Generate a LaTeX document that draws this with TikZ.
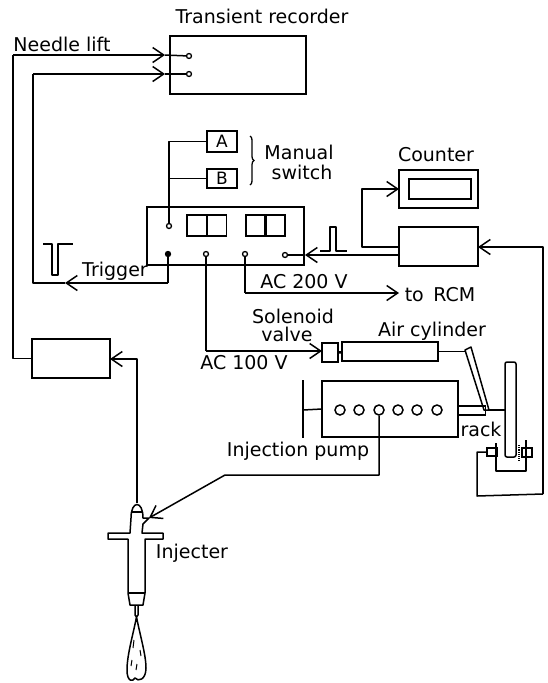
\documentclass[tikz,border=0pt]{standalone}
\usepackage{fontspec}
\setmainfont{DejaVu Sans}
\usepackage{tikz}
\usetikzlibrary{positioning, arrows.meta, decorations.pathreplacing}
\tikzset{
  wire/.style={line width=1.5pt, line join=round},
  unit/.style={draw, line width=1.5pt, inner sep=0pt, outer sep=0pt},
  term/.style={draw, circle, line width=1.3pt, fill=white, inner sep=0pt, minimum size=5pt},
  termf/.style={term, fill=black},
  hole/.style={draw, circle, line width=1.5pt, inner sep=0pt, minimum size=10pt},
  lab/.style={inner sep=0pt, font=\fontsize{19}{21}\selectfont},
  feed/.style={wire, -{Straight Barb[length=11pt, width=15pt, line width=1.5pt]}},
}
\begin{document}
\begin{tikzpicture}[x=1pt, y=-1pt]
  \useasboundingbox (0,0) rectangle (548,683);
  % recorder and amplifier
  \node[unit, minimum width=136pt, minimum height=58pt] (rec) at (238,65) {};
  \node[term] (r1) at (189,56) {};
  \node[term] (r2) at (189,74) {};
  \node[unit, minimum width=78pt, minimum height=39pt] (amp) at (71,358.5) {};
  \node[lab] (lrec) at (262,16) {Transient recorder};
  \node[lab] (lnl) at (62,44) {Needle lift};
  % control unit
  \node[unit, minimum width=157pt, minimum height=58pt] (ctl) at (225.5,236) {};
  \node[unit, minimum width=20pt, minimum height=21pt] (d1) at (197,225.5) {};
  \node[unit, minimum width=20pt, minimum height=21pt] (d2) at (216.5,225.5) {};
  \node[unit, minimum width=20pt, minimum height=21pt] (d3) at (256,225.5) {};
  \node[unit, minimum width=20pt, minimum height=21pt] (d4) at (275,225.5) {};
  \node[term] (sw) at (169,226) {};
  \node[termf] (tr) at (168,254) {};
  \node[term] (ac1) at (206,254) {};
  \node[term] (ac2) at (245,254) {};
  \node[term] (inp) at (285,255) {};
  % manual switch
  \node[unit, lab, font=\fontsize{17}{19}\selectfont, minimum width=30pt, minimum height=21pt] (ba) at (222,141.5) {A};
  \node[unit, lab, font=\fontsize{17}{19}\selectfont, minimum width=30pt, minimum height=19pt] (bb) at (222,178.5) {B};
  \coordinate (bt) at (169,141.5);
  \coordinate (bm) at (169,178.5);
  \draw[wire] (ba) -- (bt) -- (sw);
  \draw[wire] (bb) -- (bm);
  \coordinate (bra) at (250,136);
  \coordinate (brb) at (250,185);
  \draw[line width=1.3pt, decorate, decoration={brace, amplitude=4pt}] (bra) -- (brb);
  \node[lab] (lman) at (299,152) {Manual};
  \node[lab] (lsw) at (302,172) {switch};
  % counter side
  \node[unit, minimum width=79pt, minimum height=38pt] (cnt) at (438.5,189) {};
  \node[unit, minimum width=62pt, minimum height=20pt] (cw) at (440,189) {};
  \node[unit, minimum width=79pt, minimum height=39pt] (cir) at (438.5,246.5) {};
  \node[lab] (lcnt) at (436,155) {Counter};
  \coordinate (c1) at (362,247);
  \coordinate (c2) at (362,189);
  \draw[feed] (c1 -| cir.west) -- (c1) -- (c2) -- (c2 -| cnt.west);
  \coordinate (c3) at (399,255);
  \coordinate (c4) at (305,255);
  \draw[feed] (c3) -- (c4);
  \draw[wire] (c4) -- (inp);
  % pulses
  \coordinate (p1) at (320,251);
  \coordinate (p2) at (330,227);
  \coordinate (p3) at (336,227);
  \coordinate (p4) at (347,251);
  \draw[wire] (p1) -- (p1 -| p2) -- (p2) -- (p3) -- (p3 |- p4) -- (p4);
  \coordinate (n1) at (43,244);
  \coordinate (n2) at (52,275);
  \coordinate (n3) at (58,275);
  \coordinate (n4) at (73,244);
  \draw[wire] (n1) -- (n1 -| n2) -- (n2) -- (n3) -- (n3 |- n4) -- (n4);
  % trigger and needle lift wires
  \coordinate (t1) at (168,283);
  \coordinate (t2) at (65,283);
  \coordinate (t3) at (33,283);
  \coordinate (t4) at (33,74);
  \coordinate (t5) at (165,74);
  \draw[wire] (tr) -- (t1);
  \draw[feed] (t1) -- (t2);
  \draw[wire] (t2) -- (t3) -- (t4);
  \draw[feed] (t4) -- (t5);
  \draw[wire] (t5) -- (r2);
  \node[lab] (ltr) at (115,271) {Trigger};
  \coordinate (l1) at (13,55);
  \coordinate (l2) at (165,55);
  \draw[wire] (amp.west) -| (l1);
  \draw[feed] (l1) -- (l2);
  \draw[wire] (l2) -- (r1);
  % AC lines
  \coordinate (a1) at (245,293);
  \coordinate (a2) at (399,293);
  \draw[wire] (ac2) -- (a1);
  \draw[feed] (a1) -- (a2);
  \node[lab] (l200) at (304,282) {AC 200 V};
  \node[lab] (lrcm) at (440,295) {to\enspace RCM};
  % solenoid and air cylinder
  \node[unit, minimum width=16pt, minimum height=19pt] (sol) at (330,352.5) {};
  \node[unit, minimum width=96pt, minimum height=19pt] (cyl) at (390,351.5) {};
  \draw[line width=2.6pt] (sol) -- (cyl);
  \coordinate (s1) at (206,351);
  \draw[wire] (ac1) -- (s1);
  \draw[feed] (s1) -- (s1 -| sol.west);
  \node[lab] (lso1) at (293,316) {Solenoid};
  \node[lab] (lso2) at (287,334) {valve};
  \node[lab] (l100) at (244,363) {AC 100 V};
  \node[lab] (lcyl) at (432,331) {Air cylinder};
  % pump
  \node[unit, minimum width=136pt, minimum height=56pt] (pump) at (390,409) {};
  \foreach \i/\xx in {1/340,2/359,3/379,4/398,5/417,6/437}
    \node[hole] (h\i) at (\xx,410) {};
  \node[unit, minimum width=27pt, minimum height=9pt] (rck) at (472,410.5) {};
  \coordinate (pl) at (303,410);
  \coordinate (pa) at (303,380);
  \coordinate (pb) at (303,438);
  \draw[wire] (pump.west) -- (pl);
  \draw[line width=1.8pt] (pa) -- (pb);
  \node[lab] (lrck) at (481,429) {rack};
  \node[lab] (lpmp) at (298,451) {Injection pump};
  % lever and rack bar
  \coordinate (lv1) at (465,350);
  \coordinate (lv2) at (471,347);
  \coordinate (lv3) at (489,410);
  \coordinate (lv4) at (484,410);
  \draw[wire] (cyl.east) -- (lv1 |- cyl.east);
  \draw[wire] (lv1) -- (lv2) -- (lv3) -- (lv4) -- cycle;
  \node[unit, minimum width=11pt, minimum height=95pt, rounded corners=2pt] (bar) at (510.5,409.5) {};
  \draw[wire] (lv3) -- (bar.west |- lv3);
  % pickup
  \node[unit, minimum width=10pt, minimum height=8pt] (ps1) at (492,452) {};
  \node[unit, minimum width=10pt, minimum height=9pt] (ps2) at (527,452.5) {};
  \coordinate (w1) at (496,443);
  \coordinate (w2) at (496,471);
  \coordinate (w3) at (526,471);
  \coordinate (w4) at (526,440);
  \draw[wire] (w1) -- (w2) -- (w3) -- (w4);
  \coordinate (d5) at (519,445);
  \coordinate (d6) at (519,461);
  \draw[line width=1.2pt, densely dotted] (d5) -- (d6);
  \coordinate (w5) at (477,452);
  \coordinate (w6) at (477,496);
  \coordinate (w7) at (543,494);
  \coordinate (w8) at (543,247);
  \draw[wire] (ps1) -- (w5) -- (w6) -- (w7);
  \draw[feed] (w7) -- (w8) -- (cir.east |- w8);
  % injector
  \coordinate (i1) at (137,503);
  \coordinate (i2) at (137,359);
  \draw[feed] (i1) -- (i2) -- (amp.east |- i2);
  \coordinate (i3) at (149,518);
  \coordinate (q1) at (379,475);
  \coordinate (q2) at (225,475);
  \draw[feed] (h3) -- (q1) -- (q2) -- (i3);
  \draw[wire] (131,518) .. controls (131,500) and (143,500) .. (143,518)
    -- (i3) -- (143,524) -- (142,533) -- (163,533) -- (163,539) -- (145,539)
    -- (145,593) -- (143,605) -- (130,605) -- (128,593) -- (128,539)
    -- (108,539) -- (108,533) -- (130,533) -- cycle;
  \draw[wire] (131,512) -- (143,512);
  \draw[wire] (128,593) -- (145,593);
  \draw[wire] (135,605) -- (135,615) -- (136.5,617) -- (138,615) -- (138,605);
  \draw[wire] (136.5,617) .. controls (133,635) and (127,655) .. (127,670)
    .. controls (127,682) and (133,682) .. (135,678)
    .. controls (138,682) and (146,680) .. (146,668)
    .. controls (146,655) and (140,635) .. (136.5,617);
  \draw[line width=1pt] (134,640) -- (133,648) (140,650) -- (141,656) (132,660) -- (131,666) (137,664) -- (136,670);
  \node[lab] (linj) at (192,553) {Injecter};
\end{tikzpicture}
\end{document}
